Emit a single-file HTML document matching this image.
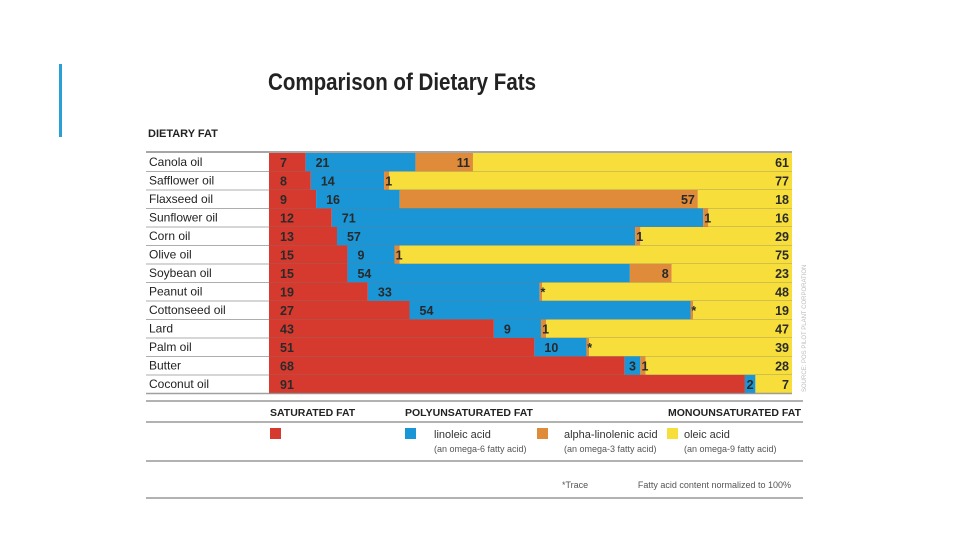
<!DOCTYPE html>
<html><head><meta charset="utf-8"><style>
body{margin:0;background:#fff;width:960px;height:540px;overflow:hidden}
svg{display:block}
text{font-family:"Liberation Sans Narrow","Liberation Sans",sans-serif}
</style></head><body>
<svg id="chart" width="960" height="540">
<rect x="59" y="64" width="3" height="73" fill="#2a9fd6"/>
<text x="268" y="90" font-size="24" font-weight="bold" fill="#222" textLength="268" lengthAdjust="spacingAndGlyphs">Comparison of Dietary Fats</text>
<text x="148" y="137" font-size="11" font-weight="bold" fill="#222">DIETARY FAT</text>
<g id="rows"></g>
<line x1="146" y1="401" x2="803" y2="401" stroke="#999" stroke-width="1.5"/>
<text x="270" y="416" font-size="10.5" font-weight="bold" fill="#222">SATURATED FAT</text>
<text x="405" y="416" font-size="10.5" font-weight="bold" fill="#222">POLYUNSATURATED FAT</text>
<text x="801" y="416" font-size="10.5" font-weight="bold" fill="#222" text-anchor="end">MONOUNSATURATED FAT</text>
<line x1="146" y1="422" x2="803" y2="422" stroke="#999" stroke-width="1.5"/>
<rect x="270" y="428" width="11" height="11" fill="#d63a2f"/>
<rect x="405" y="428" width="11" height="11" fill="#1a95d6"/>
<text x="434" y="438" font-size="11" fill="#333">linoleic acid</text>
<text x="434" y="452" font-size="9" fill="#555">(an omega-6 fatty acid)</text>
<rect x="537" y="428" width="11" height="11" fill="#e08b3a"/>
<text x="564" y="438" font-size="11" fill="#333">alpha-linolenic acid</text>
<text x="564" y="452" font-size="9" fill="#555">(an omega-3 fatty acid)</text>
<rect x="667" y="428" width="11" height="11" fill="#f7de3a"/>
<text x="684" y="438" font-size="11" fill="#333">oleic acid</text>
<text x="684" y="452" font-size="9" fill="#555">(an omega-9 fatty acid)</text>
<line x1="146" y1="461" x2="803" y2="461" stroke="#999" stroke-width="1.5"/>
<text x="562" y="488" font-size="9" fill="#555">*Trace</text>
<text x="791" y="488" font-size="9" fill="#555" text-anchor="end">Fatty acid content normalized to 100%</text>
<line x1="146" y1="498" x2="803" y2="498" stroke="#999" stroke-width="1.5"/>
<text transform="translate(806,392) rotate(-90)" font-size="6" fill="#bbb">SOURCE: POS PILOT PLANT CORPORATION</text>
</svg>
<script>
const categories=["Canola oil","Safflower oil","Flaxseed oil","Sunflower oil","Corn oil","Olive oil","Soybean oil","Peanut oil","Cottonseed oil","Lard","Palm oil","Butter","Coconut oil"];
const saturated=[7,8,9,12,13,15,15,19,27,43,51,68,91];
const linoleic=[21,14,16,71,57,9,54,33,54,9,10,3,2];
const alphaLinolenic=[11,1,57,1,1,1,8,0.5,0.5,1,0.5,1,0];
const alphaLabels=["11","1","57","1","1","1","8","*","*","1","*","1",""];
const oleic=[61,77,18,16,29,75,23,48,19,47,39,28,7];
const NS="http://www.w3.org/2000/svg";
const X0=269,X1=792,Y0=153,RH=18.5;
function total(i){return saturated[i]+linoleic[i]+alphaLinolenic[i]+oleic[i];}
function xs(i,v){return (X1-X0)*v/total(i);}
function yRow(i){return Y0+i*RH;}
const g=document.getElementById('rows');
function mk(tag,attrs){const e=document.createElementNS(NS,tag);for(const k in attrs)e.setAttribute(k,attrs[k]);g.appendChild(e);return e;}
mk('line',{x1:146,y1:Y0-1,x2:X1,y2:Y0-1,stroke:'#888','stroke-width':1.5});
categories.forEach((c,i)=>{
  const y=yRow(i);
  const t=mk('text',{x:149,y:y+13,'font-size':12,fill:'#222'});
  
  
  t.textContent=c;
  const segs=[[saturated[i],'#d63a2f','bar-saturated'],[linoleic[i],'#1a95d6','bar-linoleic'],[alphaLinolenic[i],'#e08b3a','bar-alpha-linolenic'],[oleic[i],'#f7de3a','bar-oleic']];
  let x=X0;const pos=[];
  segs.forEach(s=>{const w=xs(i,s[0]);const r=mk('rect',{x:x,y:y,width:Math.max(w,0),height:RH,fill:s[1]});
    
    
    pos.push([x,w]);x+=w;});
  const fs={'font-size':12.5,'font-weight':'bold',fill:'#2a2a2a'};
  function lab(xx,txt,anchor,name){const e=mk('text',Object.assign({x:xx,y:y+14,'text-anchor':anchor},fs));
    
    
    e.textContent=txt;}
  lab(X0+11,String(saturated[i]),'start','value-saturated');
  if(linoleic[i]>=5)lab(pos[1][0]+10,String(linoleic[i]),'start','value-linoleic');
  else lab(pos[1][0]+pos[1][1]/2,String(linoleic[i]),'middle','value-linoleic');
  if(alphaLabels[i]){ if(alphaLinolenic[i]>=5)lab(pos[2][0]+pos[2][1]-3,alphaLabels[i],'end','value-alpha-linolenic');
    else lab(pos[2][0]+pos[2][1]/2+2,alphaLabels[i],'middle','value-alpha-linolenic');}
  lab(X1-3,String(oleic[i]),'end','value-oleic');
  mk('line',{x1:146,y1:y+RH,x2:X1,y2:y+RH,stroke:i==categories.length-1?'#888':'#777','stroke-width':i==categories.length-1?1.5:0.8,'stroke-opacity':0.8});
});
</script>
</body></html>
